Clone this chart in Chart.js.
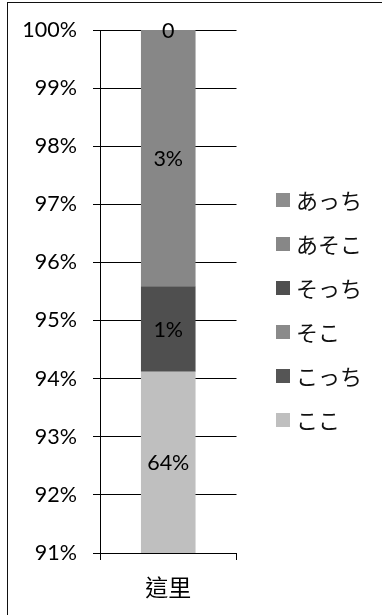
<!DOCTYPE html>
<html>
<head>
<meta charset="utf-8">
<script src="https://cdn.jsdelivr.net/npm/chart.js@4.4.0/dist/chart.umd.min.js"></script>
<style>
  html, body { margin: 0; padding: 0; background: #fff; }
  #wrap { position: relative; width: 382px; height: 615px; overflow: hidden; }
  #frame { position: absolute; left: 7px; top: 2px; width: 420px; height: 700px;
           border-left: 1.5px solid #111; border-top: 1.5px solid #111; }
  #c { position: absolute; left: 0; top: 0; }
</style>
</head>
<body>
<div id="wrap">
  <div id="frame"></div>
  <canvas id="c" width="382" height="615"></canvas>
</div>
<script>
// Category and series (counts per demonstrative form)
const categories = ['這里'];
const seriesNames = ['ここ', 'こっち', 'そこ', 'そっち', 'あそこ', 'あっち'];
const seriesCounts = [64, 0, 0, 1, 3, 0];
const seriesColors = ['#bfbfbf', '#555555', '#8a8a8a', '#4f4f4f', '#878787', '#8d8d8d'];
const labelShown = [true, false, false, true, true, true];

// Value axis range (percent of total)
const yMin = 91;
const yMax = 100;
const yStep = 1;

const numFont = 'Lato, "Noto Sans", sans-serif';
const cjkFont = '"Noto Sans CJK TC", "Noto Sans CJK JP", sans-serif';

const total = seriesCounts.reduce((a, b) => a + b, 0);

const datasets = seriesNames.map((name, i) => ({
  label: name,
  data: [seriesCounts[i] / total * 100],
  backgroundColor: seriesColors[i],
  borderWidth: 0,
  barPercentage: 0.4,
  categoryPercentage: 1.0
}));

// Value labels centred on the visible part of each segment
const valueLabels = {
  id: 'valueLabels',
  afterDatasetsDraw(chart) {
    const ctx = chart.ctx;
    const ca = chart.chartArea;
    ctx.save();
    ctx.font = '21.5px ' + numFont;
    ctx.fillStyle = '#000';
    ctx.textAlign = 'center';
    ctx.textBaseline = 'middle';
    chart.data.datasets.forEach((ds, i) => {
      if (!labelShown[i]) return;
      const bar = chart.getDatasetMeta(i).data[0];
      const top = Math.max(Math.min(bar.y, bar.base), ca.top);
      const bottom = Math.min(Math.max(bar.y, bar.base), ca.bottom);
      const v = seriesCounts[i];
      const txt = v === 0 ? '0' : v + '%';
      ctx.fillText(txt, bar.x, (top + bottom) / 2 + 1);
    });
    ctx.restore();
  }
};

// Legend column on the right, top entry = last series
const sideLegend = {
  id: 'sideLegend',
  afterDraw(chart) {
    const ctx = chart.ctx;
    ctx.save();
    ctx.font = '22px ' + cjkFont;
    ctx.textBaseline = 'middle';
    ctx.textAlign = 'left';
    const n = seriesNames.length;
    for (let k = 0; k < n; k++) {
      const i = n - 1 - k;
      const cy = 200 + k * 44;
      ctx.fillStyle = seriesColors[i];
      ctx.fillRect(276, cy - 7, 14, 14);
      ctx.fillStyle = '#111';
      ctx.fillText(seriesNames[i], 296, cy + 1);
    }
    ctx.restore();
  }
};

new Chart(document.getElementById('c'), {
  type: 'bar',
  data: { labels: categories, datasets },
  plugins: [valueLabels, sideLegend],
  options: {
    responsive: false,
    animation: false,
    devicePixelRatio: 1,
    layout: { padding: { left: 0, right: 145.5, top: 30, bottom: 0 } },
    plugins: { legend: { display: false }, tooltip: { enabled: false } },
    scales: {
      x: {
        stacked: true,
        afterFit(scale) { scale.height = 62; },
        grid: { offset: true, drawOnChartArea: false, drawTicks: true, tickLength: 7, color: '#000', lineWidth: 1 },
        border: { color: '#000', width: 1 },
        ticks: { color: '#000', padding: 13, font: { family: cjkFont, size: 23 } }
      },
      y: {
        stacked: true,
        min: yMin,
        max: yMax,
        afterFit(scale) { scale.width = 100; },
        grid: { color: '#000', lineWidth: 1, tickLength: 7, drawTicks: true },
        border: { color: '#000', width: 1 },
        ticks: {
          stepSize: yStep,
          color: '#000',
          padding: 16,
          font: { family: numFont, size: 21.5 },
          callback: v => v + '%'
        }
      }
    }
  }
});
</script>
</body>
</html>
